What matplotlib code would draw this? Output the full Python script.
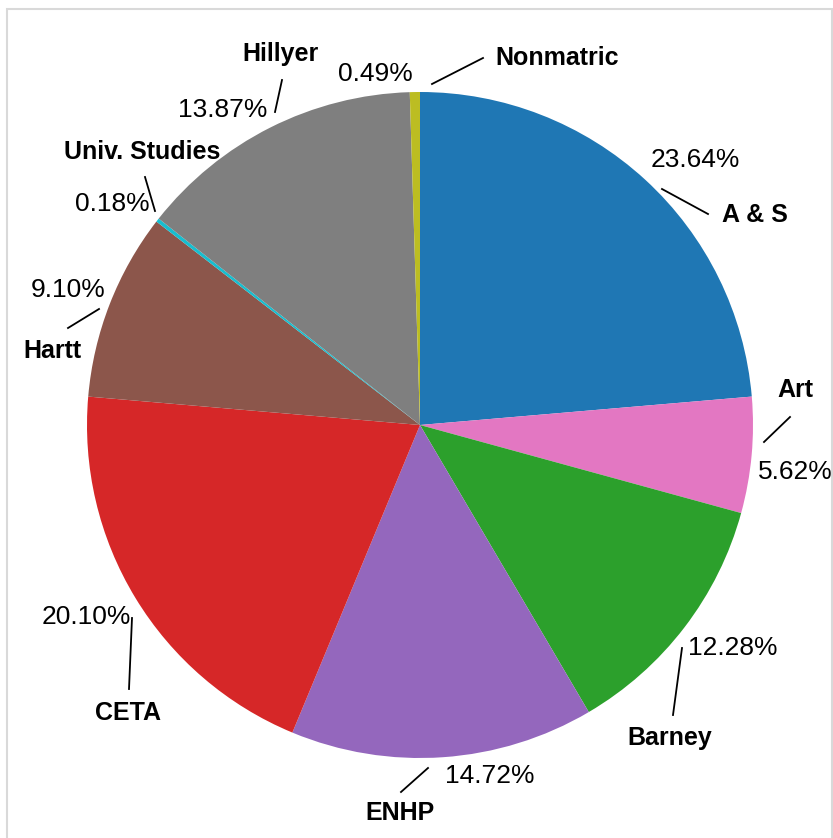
import numpy as np
import matplotlib.pyplot as plt
from matplotlib.patches import Rectangle

plt.rcParams['font.family'] = ['Liberation Sans', 'DejaVu Sans']

# Данные
categories = ['A & S', 'Art', 'Barney', 'ENHP', 'CETA', 'Hartt',
              'Univ. Studies', 'Hillyer', 'Nonmatric']
shares = [23.64, 5.62, 12.28, 14.72, 20.10, 9.10, 0.18, 13.87, 0.49]
colors = ['#1f77b4', '#e377c2', '#2ca02c', '#9467bd', '#d62728',
          '#8c564b', '#17becf', '#7f7f7f', '#bcbd22']

# Размещение подписей (в пикселях картинки): процент, название, линия
W, H = 833, 838
cx, cy, R = 420, 425, 333
layout = {
    'A & S':         ((695, 160), (755, 215), (662, 189, 708, 214)),
    'Art':           ((795, 472), (795, 390), (790, 417, 764, 442)),
    'Barney':        ((733, 648), (670, 738), (682, 648, 673, 715)),
    'ENHP':          ((490, 776), (400, 813), (428, 768, 401, 792)),
    'CETA':          ((86, 617), (128, 713), (132, 618, 129, 689)),
    'Hartt':         ((68, 290), (52, 351), (99, 309, 68, 328)),
    'Univ. Studies': ((112, 204), (142, 152), (145, 177, 155, 211)),
    'Hillyer':       ((223, 110), (280, 54), (282, 80, 275, 112)),
    'Nonmatric':     ((375, 74), (557, 58), (432, 84, 483, 58)),
}


def px(x, y):
    return (x - cx) / R, (cy - y) / R


fig = plt.figure(figsize=(W / 100, H / 100), dpi=100)
ax = fig.add_axes([0, 0, 1, 1])
ax.set_xlim(-cx / R, (W - cx) / R)
ax.set_ylim(-(H - cy) / R, cy / R)
ax.axis('off')

ax.pie(shares, colors=colors, startangle=90, counterclock=False,
       radius=1, center=(0, 0), wedgeprops=dict(linewidth=0))
ax.set_xlim(-cx / R, (W - cx) / R)
ax.set_ylim(-(H - cy) / R, cy / R)
ax.set_aspect('auto')

for name, val in zip(categories, shares):
    p, n, ln = layout[name]
    ax.text(*px(*p), f'{val:.2f}%', ha='center', va='center', fontsize=19)
    ax.text(*px(*n), name, ha='center', va='center', fontsize=18,
            fontweight='bold')
    x1, y1 = px(ln[0], ln[1])
    x2, y2 = px(ln[2], ln[3])
    ax.plot([x1, x2], [y1, y2], color='black', linewidth=1.3)

# рамка вокруг графика
fig.patches.append(Rectangle((7 / W, -0.01), (832 - 7) / W, 1.01 - 9 / H,
                             transform=fig.transFigure, fill=False,
                             edgecolor='#d9d9d9', linewidth=1.5))

plt.savefig('out.png', dpi=100)
